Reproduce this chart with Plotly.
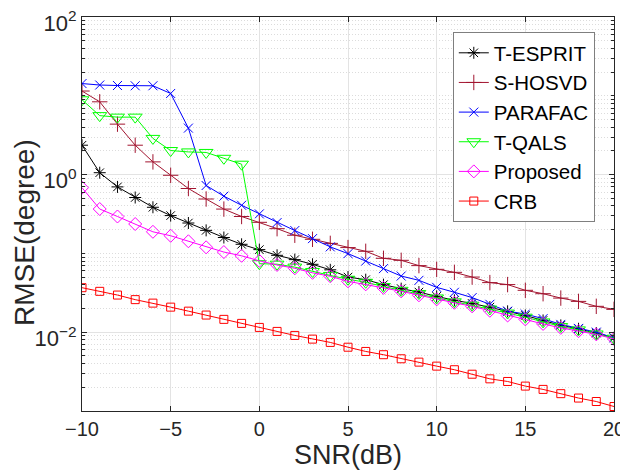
import plotly.graph_objects as go

snr = list(range(-10, 21))

t_esprit = [2.36, 1.057, 0.698, 0.512, 0.385, 0.302, 0.243, 0.196, 0.159, 0.1305, 0.1117,
            0.0946, 0.0834, 0.0727, 0.0619, 0.0501, 0.0464, 0.0401, 0.0357, 0.0323, 0.0285,
            0.0254, 0.0232, 0.0208, 0.0184, 0.0163, 0.0141, 0.0122, 0.01106, 0.00975, 0.00851]
s_hosvd = [11.5, 8.39, 4.37, 2.36, 1.45, 0.98, 0.666, 0.490, 0.365, 0.294, 0.248,
           0.206, 0.170, 0.151, 0.134, 0.1185, 0.1063, 0.0866, 0.0817, 0.0700, 0.0628,
           0.0575, 0.0501, 0.0426, 0.0402, 0.0340, 0.0308, 0.0271, 0.0246, 0.0213, 0.0195]
parafac = [14.3, 13.7, 13.5, 13.4, 13.4, 10.7, 3.89, 0.727, 0.532, 0.408, 0.317,
           0.246, 0.195, 0.154, 0.121, 0.0993, 0.080, 0.0641, 0.0516, 0.0455, 0.0371,
           0.0321, 0.0275, 0.0226, 0.0185, 0.0170, 0.01485, 0.01256, 0.01117, 0.01002, 0.00847]
t_qals = [8.9, 5.6, 5.36, 5.36, 2.88, 2.02, 1.94, 1.91, 1.61, 1.355, 0.074,
          0.073, 0.067, 0.059, 0.0525, 0.047, 0.043, 0.038, 0.034, 0.031, 0.0272,
          0.0243, 0.022, 0.0197, 0.0175, 0.0155, 0.0135, 0.0118, 0.0107, 0.0095, 0.0084]
proposed = [0.682, 0.366, 0.294, 0.236, 0.188, 0.1675, 0.1425, 0.1195, 0.104, 0.0932, 0.0805,
            0.0713, 0.0647, 0.0567, 0.0512, 0.0442, 0.0405, 0.0365, 0.033, 0.0294, 0.0261,
            0.0236, 0.0213, 0.0187, 0.0163, 0.01455, 0.01274, 0.01135, 0.0103, 0.00938, 0.00822]
crb = [0.0367, 0.033, 0.0296, 0.0259, 0.0234, 0.0208, 0.0185, 0.0165, 0.01455, 0.01294, 0.0115,
       0.01023, 0.0091, 0.00817, 0.00742, 0.00645, 0.0057, 0.00518, 0.0046, 0.00417, 0.00371,
       0.00334, 0.00293, 0.00256, 0.00237, 0.00207, 0.00188, 0.00166, 0.00146, 0.00132, 0.00114]

names = ["T-ESPRIT", "S-HOSVD", "PARAFAC", "T-QALS", "Proposed", "CRB"]
series = [t_esprit, s_hosvd, parafac, t_qals, proposed, crb]
colors = ["#000000", "#A2142F", "#0000FF", "#00FF00", "#FF00FF", "#FF0000"]
symbols = ["asterisk-open", "cross-thin-open", "x-thin-open", "triangle-down-open", "diamond-open", "square-open"]
sizes = [10, 11, 9, 12, 10, 8]

y_major = [1e-2, 1, 1e2]
y_major_text = ["10<sup>−2</sup>", "10<sup>0</sup>", "10<sup>2</sup>"]
y_minor = [m * 10.0 ** k for k in range(-3, 2) for m in range(1, 10)]

x_title = "SNR(dB)"
y_title = "RMSE(degree)"

fig = go.Figure()
for i, (nm, ys) in enumerate(zip(names, series)):
    fig.add_trace(go.Scatter(
        x=snr, y=ys, name=nm, mode="lines+markers",
        line=dict(color=colors[i], width=1),
        marker=dict(symbol=symbols[i], size=sizes[i], color=colors[i],
                    line=dict(color=colors[i], width=1)),
    ))

FAM = "Liberation Sans, Arial, sans-serif"
axis_font = dict(family=FAM, size=20, color="#262626")

# page body has an 8px margin, so the figure is sized to fit the 628x472 window
fig.update_layout(
    width=620, height=464,
    margin=dict(l=74, r=14, t=9, b=61),
    paper_bgcolor="white", plot_bgcolor="white",
    font=axis_font,
    showlegend=True,
    legend=dict(
        x=0.697, y=0.962, xanchor="left", yanchor="top",
        bgcolor="white", bordercolor="#7f7f7f", borderwidth=1,
        font=dict(family=FAM, size=20.5, color="#000000"),
    ),
    xaxis=dict(
        range=[-10, 20], tickmode="linear", tick0=-10, dtick=5,
        showline=True, linecolor="#262626", linewidth=1, mirror="ticks",
        ticks="inside", ticklen=5, tickcolor="#262626",
        showgrid=True, gridcolor="#e3e3e3", gridwidth=1,
        zeroline=False, automargin=False,
        tickfont=axis_font,
        title=dict(text=x_title, font=dict(family=FAM, size=27, color="#262626"), standoff=0),
    ),
    yaxis=dict(
        type="log", range=[-3, 2],
        tickmode="array", tickvals=y_major, ticktext=y_major_text,
        ticklabeloverflow="allow", ticklabelshift=6,
        showline=True, linecolor="#262626", linewidth=1, mirror="ticks",
        ticks="inside", ticklen=5, tickcolor="#262626",
        showgrid=True, gridcolor="#e3e3e3", gridwidth=1,
        zeroline=False, automargin=False,
        tickfont=dict(family=FAM, size=22, color="#262626"),
        minor=dict(tickmode="array", tickvals=y_minor, ticks="inside", ticklen=3,
                   tickcolor="#262626", showgrid=True, gridcolor="#dcdcdc",
                   griddash="1px,2px", gridwidth=1),
    ),
    annotations=[dict(
        text=y_title, textangle=-90, showarrow=False,
        xref="paper", yref="paper", x=-0.107, y=0.452,
        xanchor="center", yanchor="middle",
        font=dict(family=FAM, size=28, color="#262626"),
    )],
)

fig.write_html("out.html")
